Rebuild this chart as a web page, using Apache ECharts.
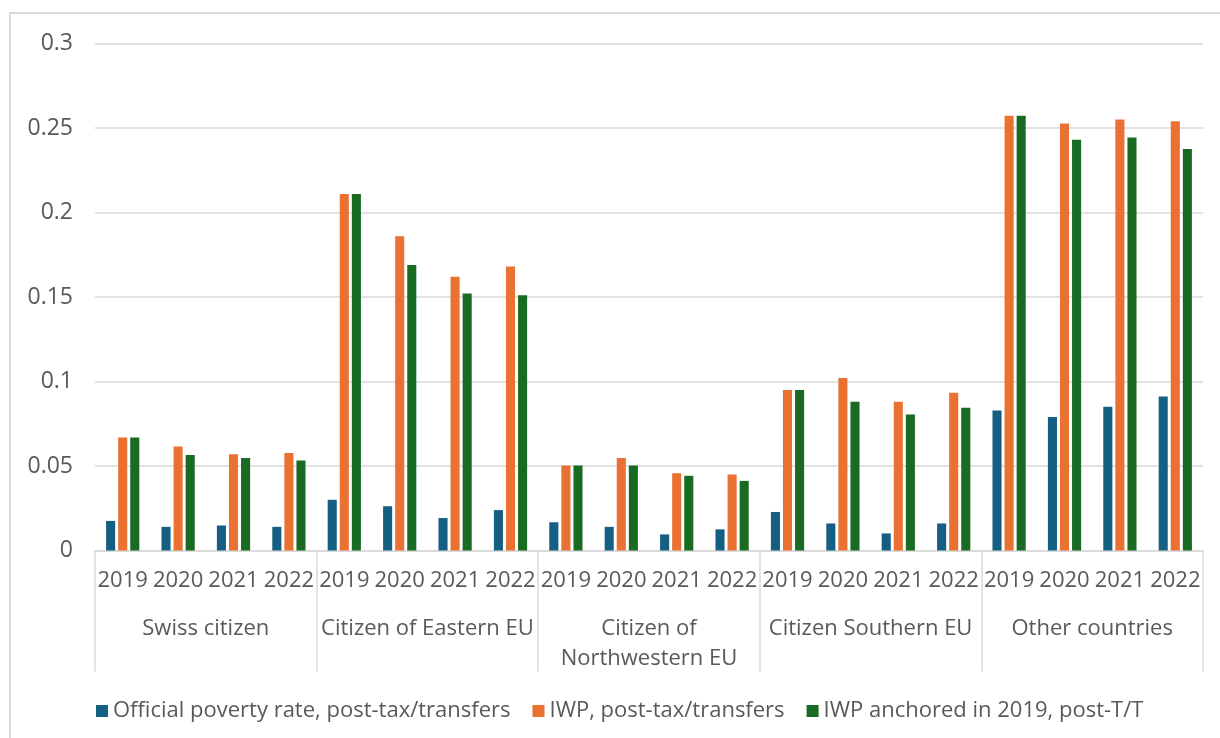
<!DOCTYPE html>
<html>
<head>
<meta charset="utf-8">
<script src="https://cdn.jsdelivr.net/npm/echarts@6/dist/echarts.min.js"></script>
<style>
html,body{margin:0;padding:0;background:#fff;}
#chart{width:1220px;height:738px;}
</style>
</head>
<body>
<div id="chart"></div>
<script>
const years = ['2019', '2020', '2021', '2022'];
const groups = ['Swiss citizen', 'Citizen of Eastern EU', 'Citizen of\nNorthwestern EU', 'Citizen Southern EU', 'Other countries'];
const seriesNames = ['Official poverty rate, post-tax/transfers', 'IWP, post-tax/transfers', 'IWP anchored in 2019, post-T/T'];
const officialRate = [0.0175, 0.014, 0.0148, 0.014, 0.030, 0.0262, 0.0192, 0.0239, 0.0167, 0.014, 0.0095, 0.0125, 0.0228, 0.016, 0.0101, 0.016, 0.0829, 0.079, 0.085, 0.0911];
const iwpRate = [0.0668, 0.0615, 0.057, 0.0577, 0.211, 0.186, 0.162, 0.168, 0.0503, 0.0548, 0.0457, 0.045, 0.0949, 0.102, 0.088, 0.0934, 0.2573, 0.2526, 0.255, 0.254];
const iwpAnchored = [0.0668, 0.0565, 0.0548, 0.0533, 0.211, 0.169, 0.152, 0.151, 0.0503, 0.0503, 0.0442, 0.0412, 0.0949, 0.088, 0.0805, 0.0844, 0.2573, 0.243, 0.2444, 0.2376];
const yTicks = { min: 0, max: 0.3, interval: 0.05 };

const colors = ['#156082', '#E97132', '#196B24'];
const textColor = '#595959';
const lineColor = '#d9d9d9';
const font = 'Open Sans';

const categories = [];
groups.forEach(() => years.forEach(y => categories.push(y)));

const chart = echarts.init(document.getElementById('chart'), null, { renderer: 'canvas' });
chart.setOption({
  animation: false,
  color: colors,
  textStyle: { fontFamily: font, color: textColor },
  graphic: [{
    type: 'rect',
    shape: { x: 10, y: 13, width: 1230, height: 760 },
    style: { fill: 'none', stroke: lineColor, lineWidth: 2 },
    silent: true
  }],
  grid: { left: 95, right: 17, top: 43.5, bottom: 187.5, containLabel: false },
  legend: {
    left: 91,
    top: 695,
    itemWidth: 12,
    itemHeight: 12,
    itemGap: 22,
    icon: 'rect',
    textStyle: { fontFamily: font, fontSize: 22, color: textColor, padding: [0, 0, 0, 0] },
    data: seriesNames
  },
  xAxis: [{
    type: 'category',
    data: categories,
    position: 'bottom',
    axisLine: { show: true, lineStyle: { color: lineColor, width: 1.5 } },
    axisTick: { show: false },
    axisLabel: { interval: 0, margin: 19, fontFamily: font, fontSize: 22, color: textColor, lineHeight: 22 },
    splitLine: { show: false }
  }, {
    type: 'category',
    data: groups,
    position: 'bottom',
    axisLine: { show: false },
    axisTick: { show: true, interval: 0, length: 121, lineStyle: { color: lineColor, width: 1.5 } },
    axisLabel: { interval: 0, margin: 63, fontFamily: font, fontSize: 22, color: textColor, lineHeight: 30, verticalAlign: 'top' },
    splitLine: { show: false }
  }],
  yAxis: {
    type: 'value',
    min: yTicks.min,
    max: yTicks.max,
    interval: yTicks.interval,
    axisLine: { show: false },
    axisTick: { show: false },
    axisLabel: { margin: 22, fontFamily: font, fontSize: 23, color: textColor },
    splitLine: { lineStyle: { color: lineColor, width: 1.5 } }
  },
  series: [
    { name: seriesNames[0], type: 'bar', xAxisIndex: 0, data: officialRate, barGap: '33%', barCategoryGap: '40%' },
    { name: seriesNames[1], type: 'bar', xAxisIndex: 0, data: iwpRate, barGap: '33%', barCategoryGap: '40%' },
    { name: seriesNames[2], type: 'bar', xAxisIndex: 0, data: iwpAnchored, barGap: '33%', barCategoryGap: '40%' }
  ]
});
</script>
</body>
</html>
